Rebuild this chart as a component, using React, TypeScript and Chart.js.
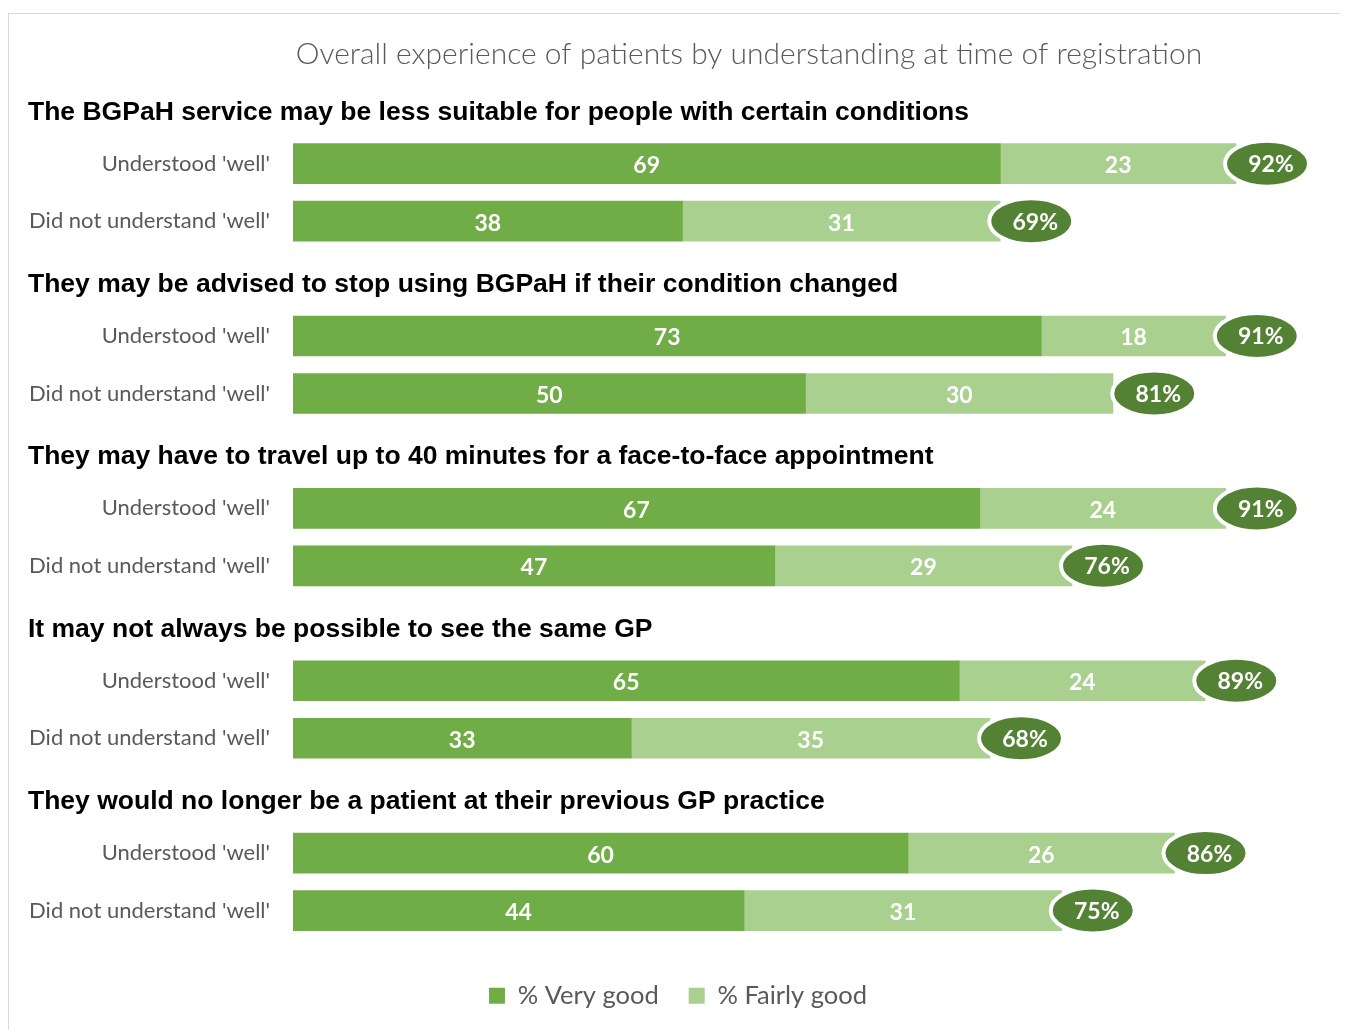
import React, { useEffect, useRef } from "react";
import { Chart, registerables } from "chart.js";

Chart.register(...registerables);

const title = "Overall experience of patients by understanding at time of registration";
const headings = [
  "The BGPaH service may be less suitable for people with certain conditions",
  "They may be advised to stop using BGPaH if their condition changed",
  "They may have to travel up to 40 minutes for a face-to-face appointment",
  "It may not always be possible to see the same GP",
  "They would no longer be a patient at their previous GP practice",
];
const rowLabels = ["Understood 'well'", "Did not understand 'well'"];
const veryGood = [69, 38, 73, 50, 67, 47, 65, 33, 60, 44];
const fairlyGood = [23, 31, 18, 30, 24, 29, 24, 35, 26, 31];
const totals = [92, 69, 91, 81, 91, 76, 89, 68, 86, 75];
const seriesNames = ["% Very good", "% Fairly good"];

const DARK = "#70AD47";
const LIGHT = "#A9D08E";
const BADGE = "#548235";
const GRAY = "#595959";
const FONT = "Lato, 'Open Sans', sans-serif";

export default function App() {
  const ref = useRef<HTMLCanvasElement | null>(null);

  useEffect(() => {
    const labels: string[] = [];
    const d1: (number | null)[] = [];
    const d2: (number | null)[] = [];
    const tot: (number | null)[] = [];
    headings.forEach((_, i) => {
      labels.push("");
      d1.push(null);
      d2.push(null);
      tot.push(null);
      rowLabels.forEach((r, j) => {
        labels.push(r);
        d1.push(veryGood[i * 2 + j]);
        d2.push(fairlyGood[i * 2 + j]);
        tot.push(totals[i * 2 + j]);
      });
    });

    const overlay = {
      id: "overlay",
      afterDatasetsDraw(chart: any) {
        const ctx = chart.ctx;
        const xs = chart.scales.x;
        const ys = chart.scales.y;
        ctx.save();
        // segment labels
        chart.data.datasets.forEach((ds: any, di: number) => {
          const meta = chart.getDatasetMeta(di);
          meta.data.forEach((el: any, i: number) => {
            const v = ds.data[i];
            if (v == null) return;
            ctx.fillStyle = "#ffffff";
            ctx.font = `bold 23px ${FONT}`;
            ctx.textAlign = "center";
            ctx.textBaseline = "middle";
            ctx.fillText(String(v), (el.x + el.base) / 2, el.y + 2);
          });
        });
        // total badges
        const meta2 = chart.getDatasetMeta(1);
        meta2.data.forEach((el: any, i: number) => {
          const t = tot[i];
          if (t == null) return;
          const cx = xs.getPixelForValue(t) + 31;
          const cy = el.y;
          ctx.beginPath();
          ctx.ellipse(cx, cy, 42, 23, 0, 0, Math.PI * 2);
          ctx.fillStyle = BADGE;
          ctx.fill();
          ctx.lineWidth = 4;
          ctx.strokeStyle = "#ffffff";
          ctx.stroke();
          ctx.fillStyle = "#ffffff";
          ctx.font = `bold 23px ${FONT}`;
          ctx.textAlign = "center";
          ctx.textBaseline = "middle";
          ctx.fillText(`${t}%`, cx + 4, cy + 1);
        });
        // headings
        headings.forEach((h, i) => {
          const y = ys.getPixelForValue(i * 3) + 6;
          ctx.fillStyle = "#000000";
          ctx.font = "bold 26.5px 'Liberation Sans', Arial, sans-serif";
          ctx.textAlign = "left";
          ctx.textBaseline = "middle";
          ctx.fillText(h, 19, y);
        });
        // title
        ctx.fillStyle = GRAY;
        ctx.font = `300 30px ${FONT}`;
        ctx.textAlign = "center";
        ctx.textBaseline = "middle";
        ctx.fillText(title, 740, 40);
        ctx.restore();
      },
    };

    const chart = new Chart(ref.current as HTMLCanvasElement, {
      type: "bar",
      data: {
        labels,
        datasets: [
          { label: seriesNames[0], data: d1, backgroundColor: DARK, barThickness: 40 },
          { label: seriesNames[1], data: d2, backgroundColor: LIGHT, barThickness: 40 },
        ],
      },
      options: {
        indexAxis: "y",
        animation: false,
        responsive: false,
        maintainAspectRatio: false,
        layout: { padding: { top: 63.5, right: 0, bottom: 25.6, left: 0 } },
        scales: {
          x: {
            stacked: true,
            min: 0,
            max: 100,
            display: true,
            grid: { display: false },
            border: { display: false },
            ticks: { display: false },
            afterFit: (s: any) => {
              s.height = 13.6;
            },
          },
          y: {
            stacked: true,
            grid: { display: false },
            border: { display: false },
            ticks: {
              color: GRAY,
              font: { family: FONT, size: 22 },
              padding: 15,
              autoSkip: false,
            },
            afterFit: (s: any) => {
              s.width = 284;
            },
          },
          yRight: {
            type: "linear",
            position: "right",
            display: true,
            grid: { display: false },
            border: { display: false },
            ticks: { display: false },
            afterFit: (s: any) => {
              s.width = 29;
            },
          },
        },
        plugins: {
          legend: {
            position: "bottom",
            labels: {
              boxWidth: 16,
              boxHeight: 16,
              padding: 30,
              color: GRAY,
              font: { family: FONT, size: 25.5 },
            },
          },
          tooltip: { enabled: false },
          title: { display: false },
        },
      },
      plugins: [overlay],
    });
    return () => chart.destroy();
  }, []);

  return (
    <div style={{ paddingTop: 5 }}>
      <div
        style={{
          width: 1338,
          height: 1030,
          border: "1px solid #d9d9d9",
          position: "relative",
        }}
      >
        <canvas ref={ref} width={1338} height={1030} style={{ display: "block" }} />
      </div>
    </div>
  );
}
